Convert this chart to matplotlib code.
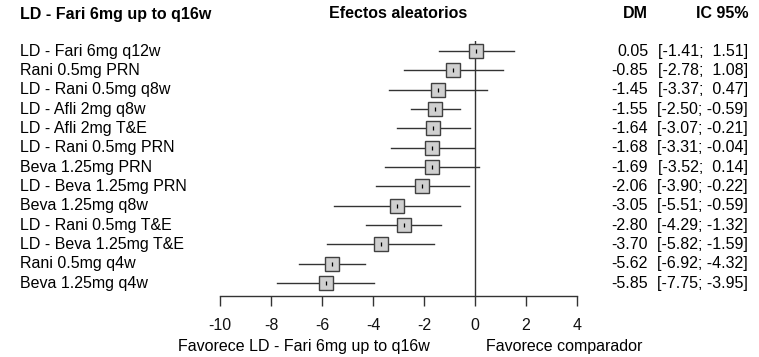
import matplotlib
matplotlib.use("Agg")
import matplotlib.pyplot as plt
import matplotlib.transforms as mtransforms

plt.rcParams['font.family'] = ['Liberation Sans', 'DejaVu Sans']
plt.rcParams['font.size'] = 11.5
plt.rcParams['axes.unicode_minus'] = False

# comparisons against LD - Fari 6mg up to q16w
labels = ["LD - Fari 6mg q12w", "Rani 0.5mg PRN", "LD - Rani 0.5mg q8w",
          "LD - Afli 2mg q8w", "LD - Afli 2mg T&E", "LD - Rani 0.5mg PRN",
          "Beva 1.25mg PRN", "LD - Beva 1.25mg PRN", "Beva 1.25mg q8w",
          "LD - Rani 0.5mg T&E", "LD - Beva 1.25mg T&E", "Rani 0.5mg q4w",
          "Beva 1.25mg q4w"]
md = [0.05, -0.85, -1.45, -1.55, -1.64, -1.68, -1.69, -2.06, -3.05, -2.80,
      -3.70, -5.62, -5.85]
lower = [-1.41, -2.78, -3.37, -2.50, -3.07, -3.31, -3.52, -3.90, -5.51, -4.29,
         -5.82, -6.92, -7.75]
upper = [1.51, 1.08, 0.47, -0.59, -0.21, -0.04, 0.14, -0.22, -0.59, -1.32,
         -1.59, -4.32, -3.95]
xticks = [-10, -8, -6, -4, -2, 0, 2, 4]

W, H = 759, 357
fig = plt.figure(figsize=(W / 100, H / 100), dpi=100)
ax = fig.add_axes([220 / W, 1 - 296 / H, 357 / W, 255 / H])

rows = [-i for i in range(len(labels))]
line_col = '#333333'

for y, m, lo, hi in zip(rows, md, lower, upper):
    ax.plot([lo, hi], [y, y], color=line_col, lw=1, zorder=2)
    ax.plot(m, y, marker='s', ms=9.6, mfc='#d0d0d0', mec='#404040', mew=1,
            zorder=3)
    ax.plot(m, y, marker='|', ms=3.5, mew=0.9, color='black', zorder=4)

ax.axvline(0, color=line_col, lw=1, zorder=1)

ax.set_xlim(-10, 4)
ax.set_ylim(-12.67, 0.52)
ax.set_xticks(xticks)
ax.set_yticks([])
for s in ['top', 'right', 'left']:
    ax.spines[s].set_visible(False)
ax.spines['bottom'].set_color(line_col)
ax.spines['bottom'].set_linewidth(1)
ax.tick_params(axis='x', length=7.2, width=1, color=line_col, pad=9,
               labelsize=11.5, labelcolor='#111111')

# left labels and right-hand columns, one per row
tr = mtransforms.blended_transform_factory(fig.transFigure, ax.transData)
for y, lab, m, lo, hi in zip(rows, labels, md, lower, upper):
    fig.text(20 / W, y, lab, transform=tr, ha='left', va='center')
    fig.text(648 / W, y, "%.2f" % m, transform=tr, ha='right', va='center')
    fig.text(748 / W, y, "[%5.2f; %5.2f]" % (lo, hi), transform=tr,
             ha='right', va='center')

# column headers
hy = 1 - 14 / H
fig.text(20 / W, hy, "LD - Fari 6mg up to q16w", fontweight='bold',
         ha='left', va='center')
fig.text((220 + 357 / 2) / W, hy, "Efectos aleatorios", fontweight='bold',
         ha='center', va='center')
fig.text(648 / W, hy, "DM", fontweight='bold', ha='right', va='center')
fig.text(748 / W, hy, "IC 95%", fontweight='bold', ha='right', va='center')

# favour labels under the axis
xt = ax.get_xaxis_transform()
ax.text(-6.71, -51 / 255, "Favorece LD - Fari 6mg up to q16w", transform=xt,
        ha='center', va='center', clip_on=False)
ax.text(3.49, -51 / 255, "Favorece comparador", transform=xt,
        ha='center', va='center', clip_on=False)

fig.savefig("out.png", dpi=100)
